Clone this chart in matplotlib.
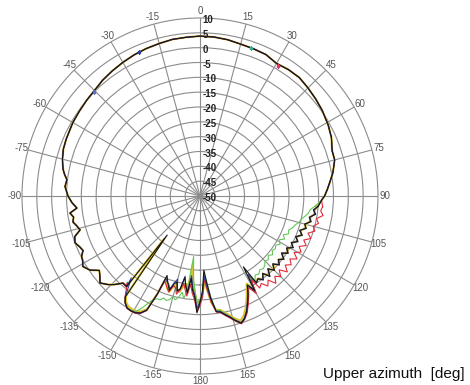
import numpy as np
import matplotlib
matplotlib.use("Agg")
import matplotlib.pyplot as plt

# ---------------- data ----------------
# Shared part of the pattern (all series overlap), clockwise from -138.5 deg via 0 to 92 deg
shared_theta = [-138.5, -136, -134, -131, -129, -126.5, -124, -121, -119, -117, -115, -113,
                -110.5, -108, -105.8, -103.5, -101.6, -99.5, -97.5, -95.6, -93, -90, -88, -86,
                -83, -81, -79, -77, -75, -71, -67, -63, -60, -55, -50, -45, -40, -35, -30, -25,
                -20, -15, -10, -5, 0, 5, 10, 15, 20, 25, 30, 35, 40, 45, 50, 55, 61, 66, 71,
                75, 80, 84, 87, 90, 92]
shared_db = [-10.8, -8.5, -7.0, -5.3, -6.6, -7.8, -5.3, -3.9, -4.8, -5.2, -6.5, -6.0,
             -5.0, -5.6, -8.0, -7.2, -6.3, -6.8, -5.8, -8.3, -6.8, -5.5, -5.0, -4.4,
             -4.8, -3.8, -3.0, -2.5, -2.0, -1.3, -1.0, -0.8, -0.5, -0.3, 0.0, 0.3, 1.0, 1.5, 2.0, 2.5,
             2.9, 3.2, 3.6, 3.7, 3.9, 3.8, 3.5, 3.0, 2.8, 2.6, 1.6, 2.0, 2.1, 1.5, 0.9, 0.3, -0.6, -1.5, -2.9,
             -3.0, -4.5, -6.0, -7.0, -8.0, -9.0]

# Lower part where the series differ (from 95 deg through 180 to -141 deg)
lower_theta = [95, 97, 99, 101, 103, 105, 107, 109, 111, 113, 115, 117, 119, 121, 123, 125,
               127, 129, 131, 133, 135, 137, 139, 141, 143, 145, 147, 148.5, 150, 152, 154,
               156, 158, 160, 162, 164, 166, 168, 170, 172, 174, 175.5, 177, 178.5, 180,
               -178.5, -177, -175.5, -174, -172.5, -171, -169.5, -168, -166.5, -165, -163.5,
               -162, -160.5, -159, -157.5, -156.5, -155, -153, -151, -149, -147, -145,
               -143.5, -140, -141]

lower_black = [-10, -11.5, -10.5, -12.5, -11.5, -13.5, -12.5, -14.5, -13, -15, -13.5, -15.5,
               -14, -16, -14.5, -16.5, -14.5, -16, -14.5, -16.5, -14.5, -16.5, -14, -16.5,
               -14.5, -16, -15, -22, -13, -16, -13, -10.5, -8, -6, -4.9, -6.2, -7.8, -9,
               -10.3, -10.6, -15.5, -20.5, -25, -18, -14, -10.6, -16, -18, -22, -17, -19.5,
               -22, -18, -17, -20, -19, -16.5, -18, -19.5, -21, -14, -7.5, -5.7, -5, -4.8,
               -4.9, -6, -7.6, -32.8, -10.7]
lower_red = [-8.5, -9, -8, -10, -9, -10.5, -9.5, -11.5, -10, -12, -10.5, -12.5,
             -11, -13, -11, -13, -11.5, -13, -11, -13.5, -11.5, -13, -11, -13.5,
             -12, -14, -13, -17, -12, -15, -12.5, -10, -7.5, -5.8, -4.7, -6, -7.5, -8.8,
             -10, -10.5, -14, -18, -22, -16, -13, -11, -15, -17, -20, -16, -18,
             -20, -17.5, -16, -18, -18.5, -16, -17, -18, -19, -13.5, -7.3, -5.5, -4.8, -4.7,
             -4.8, -6, -7.5, -12, -10.5]
lower_green = [-11, -12.5, -13, -14, -15, -15.5, -16.5, -17, -18, -17.5, -19, -18,
               -19.5, -18.5, -19.5, -19, -19.5, -18.5, -19.5, -18.5, -19, -18, -17.5, -18,
               -17, -17.5, -16, -17, -14, -16, -13, -10.5, -8, -6.2, -5.2, -6.5, -8, -9.5,
               -10.8, -11, -16, -21, -24, -17, -15, -14, -18, -22, -29.5, -18, -15,
               -17, -15, -14, -15, -13.5, -13, -13.5, -12.5, -12.5, -12, -11, -8, -5.5, -5,
               -5, -6, -7.7, -12, -10.8]
lower_yellow = [-10.3, -11, -11, -12, -12, -13, -13, -14, -13.5, -14.5, -14, -15,
                -14.5, -15.5, -15, -16, -15, -16, -15, -16, -15, -16, -15, -16,
                -15, -16, -15.5, -18, -14, -16.5, -14, -11.5, -9, -7, -5.8, -7, -8.5, -9.8,
                -11, -11.2, -14, -18, -21, -17, -15, -13, -17, -21, -27, -18, -20,
                -19, -17, -17.5, -19, -18, -16, -17, -18.5, -20, -14.5, -8, -6.3, -5.6, -5.5,
                -5.6, -6.5, -8, -31, -11]
lower_blue = [-10, -11.3, -10.8, -12.3, -11.8, -13.3, -12.8, -14.3, -13.3, -14.8, -13.8, -15.3,
              -14.3, -15.8, -14.8, -16.3, -14.8, -15.8, -14.8, -16.3, -14.8, -16.3, -14.3, -16.3,
              -14.8, -15.8, -15.2, -19, -13.5, -16, -13.3, -10.8, -8.2, -6.2, -5.1, -6.4, -8, -9.2,
              -10.5, -10.8, -15, -19, -23, -17, -14.5, -12, -16.5, -19, -23, -17.5, -19,
              -22.5, -18, -17, -21, -19.5, -17, -18.5, -19, -20, -14, -7.6, -5.8, -5.1, -4.9,
              -5, -6.1, -7.7, -14, -10.8]

marker_theta = [31, 19, -23, -45.5]
marker_db = [1.3, 2.8, 2.6, 0.2]
marker_colors = ["#e0307a", "#30b0a0", "#2a3aa0", "#6070c0"]

theta_ticks = [0, 15, 30, 45, 60, 75, 90, 105, 120, 135, 150, 165, 180,
               -165, -150, -135, -120, -105, -90, -75, -60, -45, -30, -15]
theta_tick_labels = ["0", "15", "30", "45", "60", "75", "90", "105", "120", "135", "150", "165", "180",
                     "-165", "-150", "-135", "-120", "-105", "-90", "-75", "-60", "-45", "-30", "-15"]
r_ticks = [10, 5, 0, -5, -10, -15, -20, -25, -30, -35, -40, -45, -50]
r_tick_labels = ["10", "5", "0", "-5", "-10", "-15", "-20", "-25", "-30", "-35", "-40", "-45", "-50"]
axis_label = "Upper azimuth  [deg]"

series = [
    ("yellow", lower_yellow, "#d8c428", 1.5),
    ("green", lower_green, "#62c85a", 0.8),
    ("red", lower_red, "#e02a3a", 0.8),
    ("blue", lower_blue, "#3040a8", 0.8),
    ("black", lower_black, "#1a1410", 0.8),
]

# ---------------- plot ----------------
fig = plt.figure(figsize=(4.70, 3.85), dpi=100)
ax = fig.add_axes([0.0468, 0.0286, 0.7574, 0.9247], projection="polar")
ax.set_theta_zero_location("N")
ax.set_theta_direction(-1)

for name, lower, col, lw in series:
    th = np.deg2rad(np.array(lower_theta + shared_theta + [lower_theta[0]], dtype=float))
    rr = np.array(lower + shared_db + [lower[0]], dtype=float)
    ax.plot(th, rr, color=col, linewidth=lw, zorder=3)

for t, d, c in zip(marker_theta, marker_db, marker_colors):
    ax.plot(np.deg2rad(t), d, marker="s", markersize=2.0, color=c, zorder=4, linestyle="none")

ax.set_thetalim(-np.pi, np.pi)
ax.set_ylim(-50, 10)

grid_c = "#8c8c8c"
ax.set_yticks([t for t in r_ticks if -50 < t < 10])
ax.set_yticklabels([])
ax.set_xticks(np.deg2rad(theta_ticks))
ax.set_xticklabels(theta_tick_labels, fontsize=7, color="#555555", family="Liberation Sans")
ax.tick_params(axis="x", pad=-2.0, length=0)
ax.tick_params(axis="y", length=0)
ax.grid(True, color=grid_c, linewidth=0.8)
ax.spines["polar"].set_color(grid_c)
ax.spines["polar"].set_linewidth(0.8)

# radial labels along the 0-degree line
for rv, lab in zip(r_ticks, r_tick_labels):
    ax.annotate(lab, xy=(0, rv), xytext=(1.8, -1.5), textcoords="offset points",
                ha="left", va="center", fontsize=7, color="#222222", fontweight="bold",
                family="Liberation Sans", zorder=5)

fig.text(0.989, 0.010, axis_label, ha="right", va="bottom", fontsize=11,
         family="Liberation Sans", color="#111111")

fig.savefig("out.png", dpi=100, facecolor="white")
